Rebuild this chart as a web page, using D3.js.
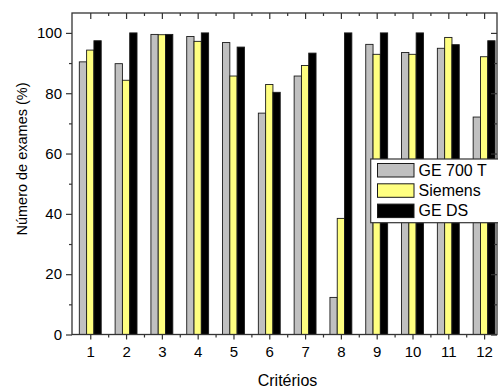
<!DOCTYPE html>
<html><head><meta charset="utf-8">
<script src="https://cdn.jsdelivr.net/npm/d3@7"></script>
<style>body{margin:0;background:#fff}svg{display:block}text{font-family:Arial,"Liberation Sans",sans-serif;fill:#000}</style>
</head><body><svg id="c" width="498" height="387"></svg>
<script>
const categories = [1,2,3,4,5,6,7,8,9,10,11,12];
const seriesNames = ["GE 700 T","Siemens","GE DS"];
const ge700t  = [90.4,89.8,99.5,98.8,96.8,73.4,85.7,12.3,96.2,93.5,94.9,72.1];
const siemens = [94.3,84.3,99.4,97.2,85.7,82.9,89.2,38.5,92.9,92.9,98.5,92.1];
const geds    = [97.4,100,99.5,100,95.3,80.3,93.3,100,100,100,96.1,97.4];
const yTicks = [0,20,40,60,80,100];
const colors = ["#c0c0c0","#ffff80","#000000"];
const series = [ge700t, siemens, geds];

const svg = d3.select("#c");
const L=72, R=497, T=13, B=334.5;
const x = d3.scaleLinear().domain([0.49,12.36]).range([L,R]);
const y = d3.scaleLinear().domain([0,106.6]).range([B,T]);
const bw = 7.3;

// bars
series.forEach((s,si)=>{
  svg.append("g").selectAll("rect").data(s).join("rect")
    .attr("x",(d,i)=>x(categories[i]) - 1.5*bw + si*bw)
    .attr("y",d=>y(d))
    .attr("width",bw)
    .attr("height",d=>B-y(d))
    .attr("fill",colors[si])
    .attr("stroke","#1a1a1a").attr("stroke-width",0.9);
});

const axCol="#333";
const minorX = d3.range(1.5,12.5,1);
const minorY = d3.range(10,110,20).filter(v=>v<=106);
// bottom axis
const gB = svg.append("g").attr("transform",`translate(0,${B})`)
  .call(d3.axisBottom(x).tickValues(categories).tickFormat(d3.format("d")).tickSize(5).tickPadding(7).tickSizeOuter(0));
svg.append("g").attr("transform",`translate(0,${B})`)
  .call(d3.axisBottom(x).tickValues(minorX).tickFormat("").tickSize(3).tickSizeOuter(0));
// top axis
svg.append("g").attr("transform",`translate(0,${T})`)
  .call(d3.axisBottom(x).tickValues(categories).tickFormat("").tickSize(6).tickSizeOuter(0));
svg.append("g").attr("transform",`translate(0,${T})`)
  .call(d3.axisBottom(x).tickValues(minorX).tickFormat("").tickSize(3).tickSizeOuter(0));
// left axis
svg.append("g").attr("transform",`translate(${L},0)`)
  .call(d3.axisLeft(y).tickValues(yTicks).tickSize(6).tickPadding(4).tickSizeOuter(0));
svg.append("g").attr("transform",`translate(${L},0)`)
  .call(d3.axisLeft(y).tickValues(minorY).tickFormat("").tickSize(3).tickSizeOuter(0));
// right axis
svg.append("g").attr("transform",`translate(${R},0)`)
  .call(d3.axisLeft(y).tickValues(yTicks).tickFormat("").tickSize(6).tickSizeOuter(0));
svg.append("g").attr("transform",`translate(${R},0)`)
  .call(d3.axisLeft(y).tickValues(minorY).tickFormat("").tickSize(3).tickSizeOuter(0));
svg.selectAll(".domain").remove();
svg.selectAll(".tick line").attr("stroke",axCol).attr("stroke-width",1.2);
svg.selectAll(".tick text").attr("font-size","15px").attr("fill","#000").style("font-family","Arial, 'Liberation Sans', sans-serif");
// frame
svg.append("rect").attr("x",L).attr("y",T).attr("width",R-L).attr("height",B-T)
  .attr("fill","none").attr("stroke",axCol).attr("stroke-width",1.3);

// legend
const lg = svg.append("g");
lg.append("rect").attr("x",370.7).attr("y",159).attr("width",140).attr("height",63.7)
  .attr("fill","#fff").attr("stroke",axCol).attr("stroke-width",1.2);
seriesNames.forEach((n,i)=>{
  lg.append("rect").attr("x",377.5).attr("y",163.5+i*20.3).attr("width",36.5).attr("height",13.5)
    .attr("fill",colors[i]).attr("stroke","#1a1a1a").attr("stroke-width",1);
  lg.append("text").attr("x",418.5).attr("y",176+i*19.9).attr("font-size","16px").text(n);
});

// axis labels
svg.append("text").attr("x",(L+R)/2+3).attr("y",385.5).attr("text-anchor","middle").attr("font-size","16px").text("Critérios");
svg.append("text").attr("transform","translate(27,159) rotate(-90)").attr("text-anchor","middle").attr("font-size","14.5px").text("Número de exames (%)");
</script></body></html>
